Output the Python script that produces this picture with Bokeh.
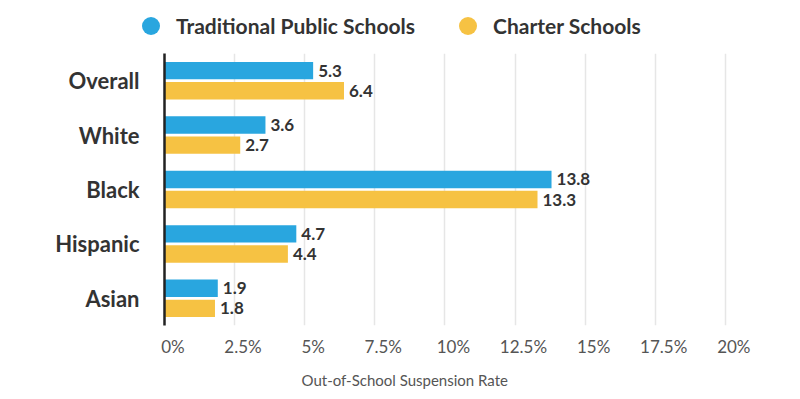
from bokeh.plotting import figure
from bokeh.layouts import column
from bokeh.models import (ColumnDataSource, FactorRange, Legend, LegendItem, FixedTicker,
                          Range1d, Title, LinearAxis, Grid)
from bokeh.transform import dodge
from bokeh.core.properties import value
from bokeh.embed import file_html
from bokeh.resources import INLINE

categories = ["Overall", "White", "Black", "Hispanic", "Asian"]
traditional = [5.3, 3.6, 13.8, 4.7, 1.9]
charter = [6.4, 2.7, 13.3, 4.4, 1.8]
tick_values = [0, 2.5, 5, 7.5, 10, 12.5, 15, 17.5, 20]
tick_labels = ["0%", "2.5%", "5%", "7.5%", "10%", "12.5%", "15%", "17.5%", "20%"]
series_names = ["Traditional Public Schools", "Charter Schools"]
x_title = "Out-of-School Suspension Rate"

BLUE = "#29a6df"
YELLOW = "#f6c243"
FONT = "Lato"
W = 784

# ---------- legend strip ----------
lg = figure(width=W, height=53, x_range=Range1d(0, 1), y_range=Range1d(0, 1),
            output_backend="svg", toolbar_location=None,
            x_axis_location=None, y_axis_location=None,
            min_border_left=0, min_border_right=0, min_border_top=0, min_border_bottom=0)
lg.frame_align = False
lg.grid.visible = False
lg.outline_line_color = None
lsrc = ColumnDataSource(dict(x=[-5], y=[-5]))
c1 = lg.scatter(x="x", y="y", source=lsrc, marker="circle", fill_color=BLUE, line_color=None)
c2 = lg.scatter(x="x", y="y", source=lsrc, marker="circle", fill_color=YELLOW, line_color=None)
legend = Legend(
    items=[LegendItem(label=series_names[0], renderers=[c1]),
           LegendItem(label=series_names[1], renderers=[c2])],
    orientation="horizontal",
    location=(128, 5),
    glyph_width=45, glyph_height=45,
    label_text_font=FONT, label_text_font_style="bold", label_text_font_size="21px",
    label_text_color="#333333", label_standoff=3,
    spacing=30, padding=0, margin=0,
    border_line_color=None, background_fill_alpha=0,
)
lg.add_layout(legend, "center")

# ---------- main chart ----------
source = ColumnDataSource(dict(
    cat=categories,
    trad=traditional,
    chart=charter,
    trad_lbl=[f"{v:.1f}" for v in traditional],
    chart_lbl=[f"{v:.1f}" for v in charter],
))

x_max = 20.36  # a little room right of the 20% line
p = figure(
    width=W, height=346,
    y_range=FactorRange(factors=list(reversed(categories))),
    x_range=Range1d(0, x_max),
    x_axis_location=None,
    output_backend="svg", toolbar_location=None,
    min_border_left=164, min_border_right=49,
    min_border_top=0, min_border_bottom=74,
)
p.frame_align = False
p.outline_line_color = None
p.xgrid.grid_line_color = None
p.ygrid.grid_line_color = None

grid = Grid(dimension=0, ticker=FixedTicker(ticks=tick_values),
            grid_line_color="#e6e6e6", grid_line_width=1.5)
p.add_layout(grid)

h = 0.32
off = 0.185
p.hbar(y=dodge("cat", off, range=p.y_range), right="trad", left=0, height=h,
       source=source, fill_color=BLUE, line_color=None)
p.hbar(y=dodge("cat", -off, range=p.y_range), right="chart", left=0, height=h,
       source=source, fill_color=YELLOW, line_color=None)

p.text(x="trad", y=dodge("cat", off, range=p.y_range), text="trad_lbl", source=source,
       x_offset=5, text_baseline="middle", text_align="left",
       text_font=value(FONT), text_font_style="bold", text_font_size="17px", text_color="#333333")
p.text(x="chart", y=dodge("cat", -off, range=p.y_range), text="chart_lbl", source=source,
       x_offset=5, text_baseline="middle", text_align="left",
       text_font=value(FONT), text_font_style="bold", text_font_size="17px", text_color="#333333")

# x axis: labels sit slightly right of their grid lines, as in the reference
label_shift = 0.3
p.extra_x_ranges = {"lab": Range1d(-label_shift, x_max - label_shift)}
xaxis = LinearAxis(x_range_name="lab", ticker=FixedTicker(ticks=tick_values),
                   major_label_overrides={v: l for v, l in zip(tick_values, tick_labels)})
xaxis.axis_line_color = None
xaxis.major_tick_line_color = None
xaxis.minor_tick_line_color = None
xaxis.major_label_text_font = FONT
xaxis.major_label_text_font_size = "17px"
xaxis.major_label_text_color = "#555555"
xaxis.major_label_standoff = 4
p.add_layout(xaxis, "below")

p.add_layout(Title(text=x_title, align="left", offset=137,
                   text_font=FONT, text_font_style="normal", text_font_size="15px",
                   text_color="#555555", standoff=18), "below")

p.yaxis.axis_line_color = "#222222"
p.yaxis.axis_line_width = 2.5
p.yaxis.major_tick_line_color = None
p.yaxis.minor_tick_line_color = None
p.yaxis.major_label_text_font = FONT
p.yaxis.major_label_text_font_style = "bold"
p.yaxis.major_label_text_font_size = "22px"
p.yaxis.major_label_text_color = "#333333"
p.yaxis.major_label_standoff = 19

layout = column(lg, p, spacing=0)
open("out.html", "w").write(file_html(layout, INLINE))
